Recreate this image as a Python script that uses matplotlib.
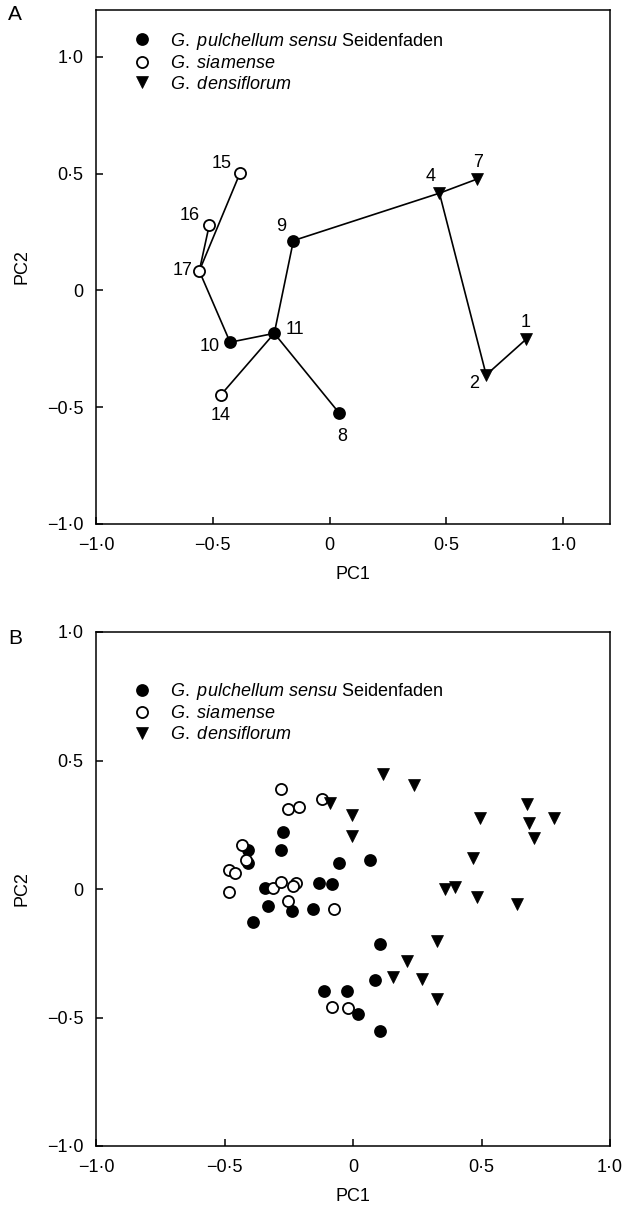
import numpy as np
import matplotlib
matplotlib.use("Agg")
import matplotlib.pyplot as plt
from matplotlib.lines import Line2D
from matplotlib.ticker import FuncFormatter, MultipleLocator

# ---- panel A: population centroids (numbered) ----
a_ids = [1, 2, 4, 7, 8, 9, 10, 11, 14, 15, 16, 17]
a_pc1 = [0.84, 0.67, 0.47, 0.63, 0.04, -0.155, -0.426, -0.237, -0.466, -0.384, -0.515, -0.558]
a_pc2 = [-0.21, -0.362, 0.416, 0.476, -0.524, 0.213, -0.222, -0.184, -0.448, 0.501, 0.28, 0.083]
a_group = ["den", "den", "den", "den", "pul", "pul", "pul", "pul", "sia", "sia", "sia", "sia"]
a_edges = [(15, 17), (16, 17), (17, 10), (10, 11), (11, 9), (11, 14),
           (11, 8), (9, 4), (4, 7), (4, 2), (2, 1)]
# label offsets in points (dx, dy)
a_label_off = {1: (0, 12), 2: (-9, -6), 4: (-6, 12), 7: (1, 12), 8: (2, -17),
               9: (-9, 10), 10: (-15, -3), 11: (15, 3), 14: (0, -15),
               15: (-13, 7), 16: (-14, 7), 17: (-12, 0)}

# ---- panel B: individual specimens ----
b_pul_pc1 = [-0.271, -0.281, -0.407, -0.407, -0.053, 0.066, -0.342, -0.131, -0.082, -0.332,
             -0.239, -0.154, -0.39, 0.105, 0.086, -0.113, -0.022, 0.021, 0.105]
b_pul_pc2 = [0.223, 0.152, 0.152, 0.1, 0.102, 0.113, 0.003, 0.022, 0.019, -0.065,
             -0.086, -0.078, -0.13, -0.215, -0.354, -0.396, -0.396, -0.486, -0.551]
b_sia_pc1 = [-0.281, -0.254, -0.21, -0.122, -0.433, -0.418, -0.481, -0.459, -0.481, -0.31,
             -0.281, -0.222, -0.232, -0.252, -0.073, -0.081, -0.021]
b_sia_pc2 = [0.389, 0.31, 0.32, 0.35, 0.171, 0.113, 0.074, 0.061, -0.011, 0.003,
             0.028, 0.025, 0.012, -0.046, -0.078, -0.458, -0.464]
b_den_pc1 = [0.116, 0.239, -0.089, -0.003, -0.003, 0.209, 0.157, 0.27, 0.494, 0.685,
             0.782, 0.705, 0.676, 0.468, 0.358, 0.397, 0.484, 0.637, 0.326, 0.326]
b_den_pc2 = [0.447, 0.405, 0.336, 0.288, 0.206, -0.279, -0.341, -0.351, 0.275, 0.258,
             0.275, 0.197, 0.331, 0.119, -0.001, 0.007, -0.032, -0.06, -0.201, -0.429]

legend_labels = [r"$\mathit{G.\ pulchellum\ sensu}$ Seidenfaden",
                 r"$\mathit{G.\ siamense}$",
                 r"$\mathit{G.\ densiflorum}$"]

plt.rcParams["font.family"] = ["Liberation Sans", "DejaVu Sans"]
plt.rcParams["mathtext.fontset"] = "custom"
plt.rcParams["mathtext.rm"] = "Liberation Sans"
plt.rcParams["mathtext.it"] = "Liberation Sans:italic"
FS = 13

styles = {
    "pul": dict(marker="o", ms=8, mfc="black", mec="black", mew=1.2),
    "sia": dict(marker="o", ms=8, mfc="white", mec="black", mew=1.3),
    "den": dict(marker="v", ms=9, mfc="black", mec="black", mew=0.5),
}


def tick_fmt(v, pos):
    if abs(v) < 1e-9:
        return "0"
    s = f"{abs(v):.1f}".replace(".", "\u00b7")
    return ("\u2212" if v < 0 else "") + s


def style_axes(ax, xmax, ymax):
    ax.set_xlim(-1.0, xmax)
    ax.set_ylim(-1.0, ymax)
    ax.xaxis.set_major_locator(MultipleLocator(0.5))
    ax.yaxis.set_major_locator(MultipleLocator(0.5))
    ax.xaxis.set_major_formatter(FuncFormatter(tick_fmt))
    ax.yaxis.set_major_formatter(FuncFormatter(tick_fmt))
    ax.tick_params(direction="in", length=5, width=1.1, labelsize=FS, pad=9,
                   top=False, right=False)
    for sp in ax.spines.values():
        sp.set_linewidth(1.1)
    ax.set_xlabel("PC1", fontsize=FS, labelpad=9)
    ax.set_ylabel("PC2", fontsize=FS, labelpad=12)


def add_legend(ax, y_anchor):
    handles = [Line2D([], [], ls="none", **styles[g]) for g in ["pul", "sia", "den"]]
    ax.legend(handles, legend_labels, loc="upper left", bbox_to_anchor=(0.071, y_anchor),
              frameon=False, fontsize=FS, handlelength=1.0, handletextpad=1.1,
              labelspacing=0.2, borderpad=0, borderaxespad=0)


fig = plt.figure(figsize=(6.24, 12.21), dpi=100)
W, H = 624, 1221
axA = fig.add_axes([96 / W, (H - 524) / H, 514 / W, 514 / H])
axB = fig.add_axes([96 / W, (H - 1146) / H, 514 / W, 514 / H])

# panel A
pos = {i: (x, y) for i, x, y in zip(a_ids, a_pc1, a_pc2)}
for p, q in a_edges:
    axA.plot([pos[p][0], pos[q][0]], [pos[p][1], pos[q][1]], color="black", lw=1.2, zorder=1)
for i, x, y, g in zip(a_ids, a_pc1, a_pc2, a_group):
    axA.plot(x, y, ls="none", zorder=2, **styles[g])
    dx, dy = a_label_off[i]
    axA.annotate(str(i), (x, y), xytext=(dx, dy), textcoords="offset points",
                 ha="center", va="center", fontsize=FS)
style_axes(axA, 1.2, 1.2)
add_legend(axA, 0.96)

# panel B
axB.plot(b_pul_pc1, b_pul_pc2, ls="none", **styles["pul"])
axB.plot(b_sia_pc1, b_sia_pc2, ls="none", **styles["sia"])
axB.plot(b_den_pc1, b_den_pc2, ls="none", **styles["den"])
style_axes(axB, 1.0, 1.0)
add_legend(axB, 0.905)

fig.text(8 / W, 1 - 14 / H, "A", fontsize=15, va="center", ha="left")
fig.text(8 / W, 1 - 638 / H, "B", fontsize=15, va="center", ha="left")

fig.savefig("out.png", dpi=100)
